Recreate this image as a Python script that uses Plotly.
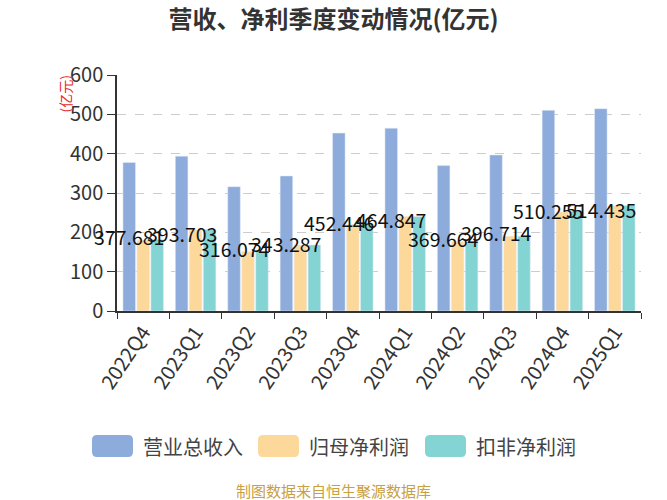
import plotly.graph_objects as go

categories = ["2022Q4", "2023Q1", "2023Q2", "2023Q3", "2023Q4",
              "2024Q1", "2024Q2", "2024Q3", "2024Q4", "2025Q1"]
revenue = [377.681, 393.703, 316.074, 343.287, 452.446,
           464.847, 369.664, 396.714, 510.255, 514.435]
net_profit = [180, 206, 151, 168, 220, 240, 176, 190, 252, 268]
net_profit_deducted = [182, 207, 151, 168, 222, 240, 176, 190, 254, 268]
revenue_labels = ["377.681", "393.703", "316.074", "343.287", "452.446",
                  "464.847", "369.664", "396.714", "510.255", "514.435"]
series_names = ["营业总收入", "归母净利润", "扣非净利润"]
series_colors = ["#8eacdb", "#fdd89b", "#84d4d4"]

FONT = "Noto Sans CJK SC, Noto Sans, sans-serif"
W, H = 667, 500
ML, MR, MT, MB = 117, 26, 75, 189
PW, PH = W - ML - MR, H - MT - MB


def px_x(px):
    return (px - ML) / PW


def px_y(py):
    return (H - MB - py) / PH


fig = go.Figure()
for name, vals, col in zip(series_names,
                           [revenue, net_profit, net_profit_deducted],
                           series_colors):
    fig.add_trace(go.Bar(name=name, x=categories, y=vals,
                         marker=dict(color=col), showlegend=False))

annotations = []
for c, v, t in zip(categories, revenue, revenue_labels):
    annotations.append(dict(x=c, y=v / 2, text=t, showarrow=False,
                            xref="x", yref="y", xshift=-14,
                            font=dict(family=FONT, size=19.5, color="#111")))

annotations.append(dict(x=px_x(64), y=px_y(74), xref="paper", yref="paper",
                        text="(亿元)", showarrow=False, textangle=-90,
                        xanchor="center", yanchor="top",
                        font=dict(family=FONT, size=14, color="#e8282a")))
annotations.append(dict(x=px_x(333), y=px_y(490), xref="paper", yref="paper",
                        text="制图数据来自恒生聚源数据库", showarrow=False,
                        xanchor="center", yanchor="middle",
                        font=dict(family=FONT, size=15, color="#c9a040")))

# manual legend with rounded swatches
shapes = []
legend_x = [92, 258, 425]
sw_w, sw_h, r = 41, 22, 5
cy = 446
for lx, name, col in zip(legend_x, series_names, series_colors):
    x0, x1 = px_x(lx), px_x(lx + sw_w)
    y0, y1 = px_y(cy + sw_h / 2), px_y(cy - sw_h / 2)
    rx, ry = r / PW, r / PH
    path = (f"M {x0+rx},{y0} L {x1-rx},{y0} Q {x1},{y0} {x1},{y0+ry} "
            f"L {x1},{y1-ry} Q {x1},{y1} {x1-rx},{y1} L {x0+rx},{y1} "
            f"Q {x0},{y1} {x0},{y1-ry} L {x0},{y0+ry} Q {x0},{y0} {x0+rx},{y0} Z")
    shapes.append(dict(type="path", path=path, xref="paper", yref="paper",
                       fillcolor=col, line=dict(width=0)))
    annotations.append(dict(x=px_x(lx + sw_w + 8), y=px_y(cy),
                            xref="paper", yref="paper", text=name,
                            showarrow=False, xanchor="left", yanchor="middle",
                            font=dict(family=FONT, size=20, color="#444")))

fig.update_layout(
    width=W, height=H,
    margin=dict(l=ML, r=MR, t=MT, b=MB),
    paper_bgcolor="white", plot_bgcolor="white",
    barmode="group", bargap=0.2, bargroupgap=0.1,
    title=dict(text="<b>营收、净利季度变动情况(亿元)</b>",
               x=0.5, xanchor="center", y=0.96, yanchor="middle",
               font=dict(family=FONT, size=24, color="#333")),
    font=dict(family=FONT, color="#333"),
    showlegend=False,
    annotations=annotations,
    shapes=shapes,
)
fig.update_yaxes(range=[0, 600], dtick=100, automargin=False,
                 showgrid=True, gridcolor="#cccccc", griddash="dash",
                 showline=True, linecolor="#333", linewidth=1.5,
                 ticks="outside", ticklen=8, tickcolor="#333",
                 tickfont=dict(family=FONT, size=20, color="#333"),
                 zeroline=False)
fig.update_xaxes(range=[-0.5, 9.5], automargin=False,
                 showline=True, linecolor="#333", linewidth=1.5,
                 ticks="outside", ticklen=6, tickcolor="#333",
                 tickson="boundaries", tickangle=-56,
                 tickfont=dict(family=FONT, size=20, color="#333"))

fig.write_html("out.html")
